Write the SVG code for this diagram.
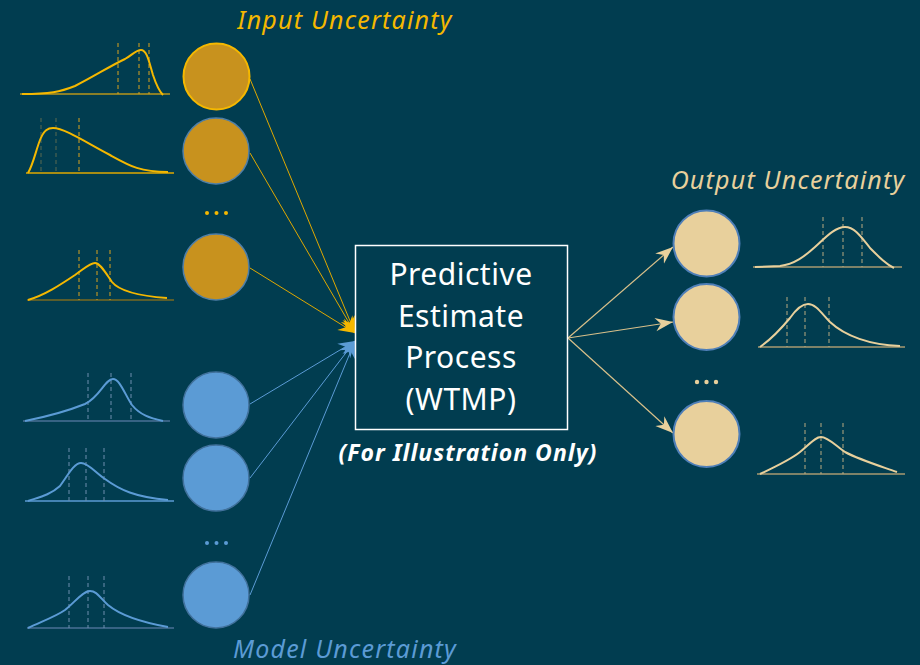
<svg xmlns="http://www.w3.org/2000/svg" width="920" height="665" viewBox="0 0 920 665">
<style>
text{font-family:"Noto Sans","Open Sans","Liberation Sans",sans-serif}
.title{font-style:italic;font-size:25px;letter-spacing:1.2px}
.box{font-size:30px;fill:#fff;text-anchor:middle;letter-spacing:0.5px}
.gc{fill:#C8921E;stroke:#4F7FA8;stroke-width:1.5}
.bc{fill:#5B9BD5;stroke:#41719C;stroke-width:1.5}
.oc{fill:#E8D09C;stroke:#4F7FB8;stroke-width:2}
.gcur{fill:none;stroke:#F5B800;stroke-width:2}
.bcur{fill:none;stroke:#5B9BD5;stroke-width:2}
.ocur{fill:none;stroke:#E8D09C;stroke-width:2}
.gbase{stroke:#B8961A;stroke-width:1.5}
.bbase{stroke:#4A7196;stroke-width:1.5}
.obase{stroke:#A89A70;stroke-width:1.5}
.gd{stroke:#D9A31E;stroke-width:1;stroke-dasharray:4 3}
.bd{stroke:#6E8FAE;stroke-width:1;stroke-dasharray:4 3}
.od{stroke:#B8AA80;stroke-width:1;stroke-dasharray:4 3}
.gl{stroke:#E0A800;stroke-width:1;fill:none}
.bl{stroke:#5B9BD5;stroke-width:1;fill:none}
.ol{stroke:#D8C08A;stroke-width:1.2;fill:none}
</style>
<defs>
<marker id="ag" markerUnits="userSpaceOnUse" markerWidth="20" markerHeight="20" viewBox="-16 -8 18 16" refX="0" refY="0" orient="auto"><path d="M0,0 L-15,-6 L-10,0 L-15,6 Z" fill="#F5B800"/></marker>
<marker id="ab" markerUnits="userSpaceOnUse" markerWidth="20" markerHeight="20" viewBox="-16 -8 18 16" refX="0" refY="0" orient="auto"><path d="M0,0 L-15,-6 L-10,0 L-15,6 Z" fill="#5B9BD5"/></marker>
<marker id="ao" markerUnits="userSpaceOnUse" markerWidth="20" markerHeight="20" viewBox="-16 -8 18 16" refX="0" refY="0" orient="auto"><path d="M0,0 L-16,-6 L-11,0 L-16,6 Z" fill="#E8D09C"/></marker>
</defs>
<rect width="920" height="665" fill="#013D50"/>

<text class="title" x="345" y="29" text-anchor="middle" fill="#F5B800">Input Uncertainty</text>
<text class="title" x="788" y="189" text-anchor="middle" fill="#E8D09C">Output Uncertainty</text>
<text class="title" x="345" y="658" text-anchor="middle" fill="#5B9BD5">Model Uncertainty</text>

<g id="connectors">
<line class="gl" x1="250" y1="79" x2="355" y2="333" marker-end="url(#ag)"/>
<line class="gl" x1="250" y1="153" x2="355" y2="333" marker-end="url(#ag)"/>
<line class="gl" x1="250" y1="268" x2="355" y2="333" marker-end="url(#ag)"/>
<line class="bl" x1="250" y1="404" x2="355" y2="341" marker-end="url(#ab)"/>
<line class="bl" x1="250" y1="478" x2="355" y2="341" marker-end="url(#ab)"/>
<line class="bl" x1="250" y1="595" x2="355" y2="341" marker-end="url(#ab)"/>
<line class="ol" x1="568" y1="338" x2="673" y2="247" marker-end="url(#ao)"/>
<line class="ol" x1="568" y1="338" x2="673" y2="322" marker-end="url(#ao)"/>
<line class="ol" x1="568" y1="338" x2="673" y2="433" marker-end="url(#ao)"/>
</g>

<g id="input1">
<line class="gbase" x1="20" y1="94" x2="170" y2="94"/>
<line class="gd" x1="118" y1="43" x2="118" y2="94"/>
<line class="gd" x1="139" y1="43" x2="139" y2="94"/>
<line class="gd" x1="149" y1="43" x2="149" y2="94"/>
<path class="gcur" d="M22,94 C50,94 60,92 75,86 C95,76 110,66 125,59 C132,55 136,50 141,50 C147,50 149,62 153,75 C156,84 159,91 163,95"/>
<circle cx="216.5" cy="76.5" r="33" fill="#C8921E" stroke="#F5B800" stroke-width="2"/>
</g>
<g id="input2">
<line class="gbase" x1="26" y1="173" x2="174" y2="173" style="stroke:#E0A800"/>
<line class="gd" x1="41" y1="118" x2="41" y2="173" style="stroke:#5A6A50"/>
<line class="gd" x1="56" y1="118" x2="56" y2="173" style="stroke:#5A6A50"/>
<line class="gd" x1="79" y1="118" x2="79" y2="173"/>
<path class="gcur" d="M28,173 C33,165 36,150 40,140 C44,130 48,128 53,128 C65,128 90,145 110,155 C130,166 140,172 168,172"/>
<circle class="gc" cx="216" cy="151" r="33"/>
</g>
<g id="input-dots" fill="#F5B800">
<circle cx="207" cy="213" r="2"/><circle cx="216.5" cy="213" r="2"/><circle cx="226" cy="213" r="2"/>
</g>
<g id="input3">
<line class="gbase" x1="27" y1="300" x2="174" y2="300" style="stroke:#7A6A20"/>
<line class="gd" x1="79" y1="250" x2="79" y2="300"/>
<line class="gd" x1="97" y1="250" x2="97" y2="300"/>
<line class="gd" x1="110" y1="250" x2="110" y2="300"/>
<path class="gcur" d="M28,300 C45,295 60,285 75,275 C85,268 90,263 95,263 C100,263 105,272 112,282 C120,292 140,296 167,298"/>
<circle class="gc" cx="216" cy="267" r="33"/>
</g>

<g id="model1">
<line class="bbase" x1="23" y1="421" x2="170" y2="421"/>
<line class="bd" x1="88" y1="373" x2="88" y2="421"/>
<line class="bd" x1="111" y1="373" x2="111" y2="421"/>
<line class="bd" x1="131" y1="373" x2="131" y2="421"/>
<path class="bcur" d="M25,421 C50,416 70,410 85,404 C100,397 105,379 113,379 C120,379 125,395 132,405 C140,415 150,418 163,421"/>
<circle class="bc" cx="216" cy="405" r="33"/>
</g>
<g id="model2">
<line class="bbase" x1="25" y1="501" x2="174" y2="501" style="stroke:#5B9BD5"/>
<line class="bd" x1="69" y1="448" x2="69" y2="501"/>
<line class="bd" x1="86" y1="448" x2="86" y2="501"/>
<line class="bd" x1="104" y1="448" x2="104" y2="501"/>
<path class="bcur" d="M28,501 C40,497 50,495 60,486 C68,475 74,463 81,463 C88,463 95,472 105,479 C120,490 135,497 168,500"/>
<circle class="bc" cx="216" cy="478" r="33"/>
</g>
<g id="model-dots" fill="#5B9BD5">
<circle cx="207" cy="543" r="2"/><circle cx="216.5" cy="543" r="2"/><circle cx="226" cy="543" r="2"/>
</g>
<g id="model3">
<line class="bbase" x1="27" y1="628" x2="174" y2="628"/>
<line class="bd" x1="69" y1="576" x2="69" y2="628"/>
<line class="bd" x1="88" y1="576" x2="88" y2="628"/>
<line class="bd" x1="104" y1="576" x2="104" y2="628"/>
<path class="bcur" d="M28,628 C40,622 55,617 65,610 C75,602 83,591 90,591 C97,591 100,598 108,605 C120,615 140,622 168,627"/>
<circle class="bc" cx="216" cy="595" r="33"/>
</g>

<g id="process">
<rect x="355.5" y="245.5" width="212" height="184" fill="none" stroke="#fff" stroke-width="1.5"/>
<text class="box" x="461" y="285">Predictive</text>
<text class="box" x="461" y="327">Estimate</text>
<text class="box" x="461" y="368">Process</text>
<text class="box" x="461" y="410">(WTMP)</text>
<text x="468" y="461" text-anchor="middle" fill="#fff" font-size="23" font-weight="bold" font-style="italic" letter-spacing="1">(For Illustration Only)</text>
</g>

<g id="output1">
<circle class="oc" cx="706.5" cy="243.5" r="33"/>
<line class="obase" x1="753" y1="267" x2="902" y2="267"/>
<line class="od" x1="823" y1="217" x2="823" y2="267"/>
<line class="od" x1="843" y1="217" x2="843" y2="267"/>
<line class="od" x1="862" y1="217" x2="862" y2="267"/>
<path class="ocur" d="M755,267 L780,266 C795,264 805,256 815,247 C825,238 835,227 845,227 C855,227 862,238 870,248 C880,258 886,264 894,268"/>
</g>
<g id="output2">
<circle class="oc" cx="706.5" cy="317" r="33"/>
<line class="obase" x1="758" y1="347" x2="905" y2="347"/>
<line class="od" x1="787" y1="297" x2="787" y2="347"/>
<line class="od" x1="805" y1="297" x2="805" y2="347"/>
<line class="od" x1="829" y1="297" x2="829" y2="347"/>
<path class="ocur" d="M760,347 C770,340 780,330 790,318 C797,308 802,304 808,304 C816,304 822,314 830,322 C845,336 870,345 900,346"/>
</g>
<g id="output-dots" fill="#E8D09C">
<circle cx="697" cy="382" r="2.2"/><circle cx="706.5" cy="382" r="2.2"/><circle cx="716" cy="382" r="2.2"/>
</g>
<g id="output3">
<circle class="oc" cx="706.5" cy="434" r="33"/>
<line class="obase" x1="757" y1="474" x2="905" y2="474"/>
<line class="od" x1="805" y1="423" x2="805" y2="474"/>
<line class="od" x1="821" y1="423" x2="821" y2="474"/>
<line class="od" x1="843" y1="423" x2="843" y2="474"/>
<path class="ocur" d="M760,474 C775,467 790,460 800,452 C810,444 815,437 821,437 C828,437 836,446 845,452 C860,460 880,466 897,472"/>
</g>
</svg>
